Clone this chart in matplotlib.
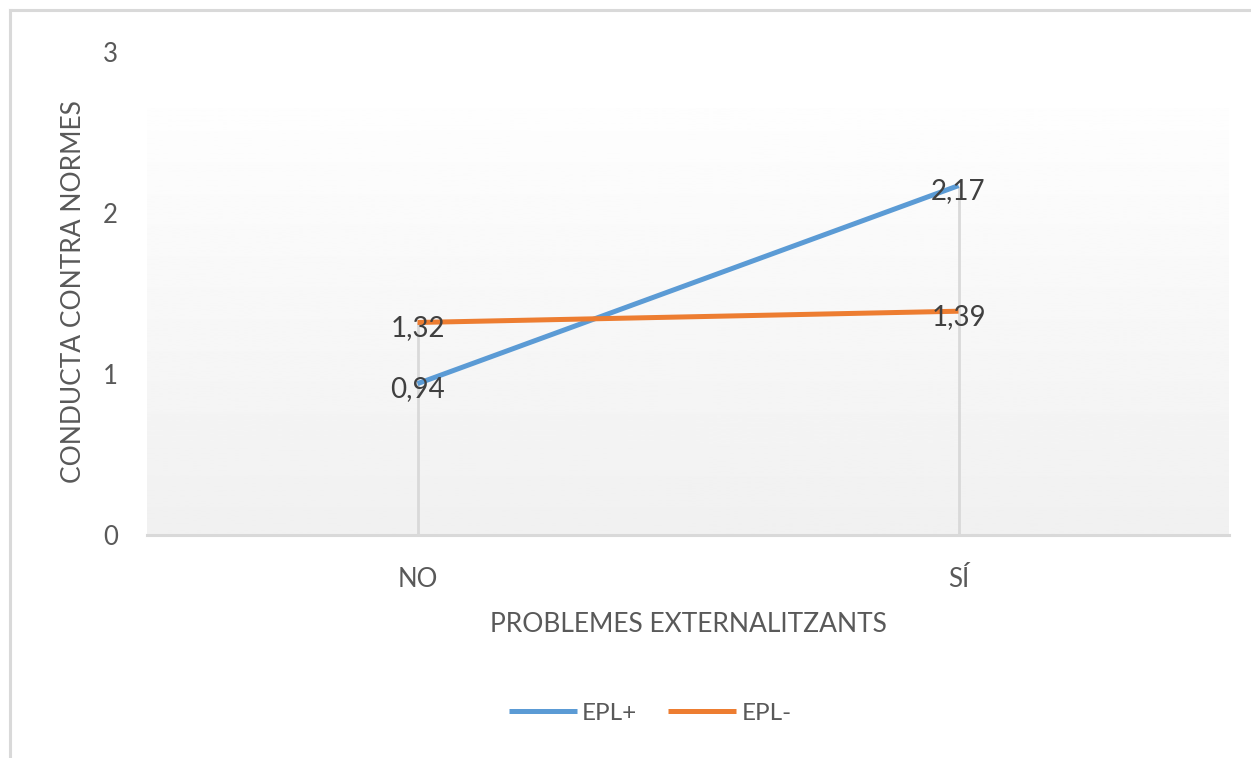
import numpy as np
import matplotlib
matplotlib.use('Agg')
from matplotlib import pyplot as plt
from matplotlib.lines import Line2D

categories = ['NO', 'SÍ']
epl_plus = [0.94, 2.17]
epl_minus = [1.32, 1.39]
series_names = ['EPL+', 'EPL-']
yticks = [0, 1, 2, 3]

plt.rcParams['font.family'] = ['Lato', 'DejaVu Sans']

grey_txt = '#595959'
grid_c = '#d9d9d9'
fs = 18.5

fig = plt.figure(figsize=(12.51, 7.58), dpi=100)
W, H = 1251, 758
ax = fig.add_axes([147 / W, 1 - 535 / H, (1229 - 147) / W, (535 - 52) / H])

# gradient background of plot area
grad = np.linspace(0.942, 0.995, 256).reshape(-1, 1)
ax.imshow(grad, cmap='gray', vmin=0, vmax=1, aspect='auto', origin='lower',
          extent=(0, 1, 0, 0.884), transform=ax.transAxes, zorder=0)

x = np.arange(len(categories))
tops = np.maximum(epl_plus, epl_minus)
ax.vlines(x, 0, tops, color=grid_c, lw=2, zorder=1)

ax.plot(x, epl_plus, color='#5b9bd5', lw=3.6, solid_capstyle='butt', zorder=3, label=series_names[0])
ax.plot(x, epl_minus, color='#ed7d31', lw=3.6, solid_capstyle='butt', zorder=3, label=series_names[1])

for vals in (epl_plus, epl_minus):
    for xi, v in zip(x, vals):
        ax.annotate(f'{v:.2f}'.replace('.', ','), (xi, v), xytext=(0, -4),
                    textcoords='offset points', ha='center', va='center',
                    fontsize=20, color='#404040', zorder=4)

ax.set_xlim(-0.5, 1.5)
ax.set_ylim(0, 3)
ax.set_xticks(x)
ax.set_xticklabels(categories)
ax.set_yticks(yticks)
ax.tick_params(length=0, labelsize=fs, colors=grey_txt)
ax.tick_params(axis='x', pad=23)
ax.tick_params(axis='y', pad=21)
for s in ['top', 'right', 'left']:
    ax.spines[s].set_visible(False)
ax.spines['bottom'].set_color(grid_c)
ax.spines['bottom'].set_linewidth(2.2)

ax.set_xlabel('PROBLEMES EXTERNALITZANTS', fontsize=19, color=grey_txt)
ax.xaxis.set_label_coords(0.5, -(624 - 535) / (535 - 52))
ax.xaxis.label.set_va('center')
ax.set_ylabel('CONDUCTA CONTRA NORMES', fontsize=19, color=grey_txt)
ax.yaxis.set_label_coords(-(147 - 74) / (1229 - 147), (535 - 292) / (535 - 52))
ax.yaxis.label.set_va('center')

leg = fig.legend(loc='center', bbox_to_anchor=(650 / W, 1 - 713 / H), ncol=2,
                 frameon=False, fontsize=17.5, handlelength=2.8, handletextpad=0.2,
                 columnspacing=1.3)
for t in leg.get_texts():
    t.set_color(grey_txt)

# chart border (top and left visible)
fig.add_artist(Line2D([10 / W, 1.0], [1 - 10 / H] * 2, color=grid_c, lw=2.2))
fig.add_artist(Line2D([10 / W] * 2, [0, 1 - 10 / H], color=grid_c, lw=2.2))

fig.savefig('out.png', dpi=100, facecolor='white')
